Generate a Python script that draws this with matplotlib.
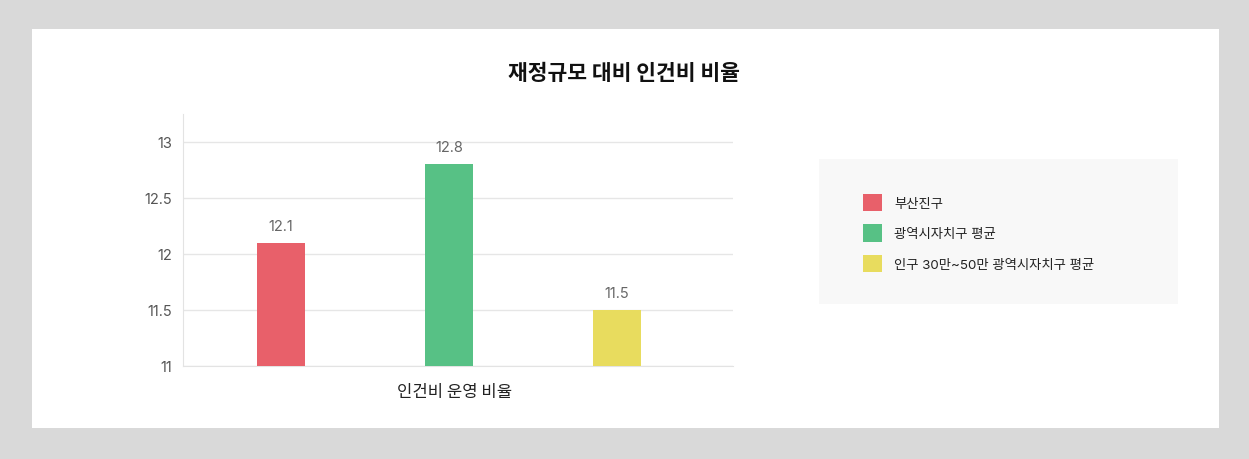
import matplotlib.pyplot as plt
from matplotlib.patches import Rectangle

plt.rcParams['font.family'] = ['Inter', 'Noto Sans CJK KR', 'DejaVu Sans']

# 데이터
series = ['부산진구', '광역시자치구 평균', '인구 30만~50만 광역시자치구 평균']
values = [12.1, 12.8, 11.5]
colors = ['#e8606a', '#57c185', '#e8dc5e']
category = '인건비 운영 비율'
yticks = [11, 11.5, 12, 12.5, 13]

W, H = 1249, 460
fig = plt.figure(figsize=(W / 100, H / 100), dpi=100)
fig.patch.set_facecolor('#d9d9d9')

# 흰 패널
fig.patches.append(Rectangle((32 / W, 1 - 429 / H), (1219 - 32) / W, (429 - 30) / H,
                             transform=fig.transFigure, facecolor='white',
                             edgecolor='none', zorder=-2))

fig.text(624 / W, 1 - 73 / H, '재정규모 대비 인건비 비율', ha='center', va='center',
         fontsize=15.5, fontweight='bold', color='#111111',
         family=['Noto Sans CJK KR', 'DejaVu Sans'])

ax = fig.add_axes([183 / W, 1 - 367 / H, (733 - 183) / W, (367 - 115) / H])
ax.set_zorder(2)
ax.set_facecolor('white')

bars = []
for i, (name, v, c) in enumerate(zip(series, values, colors)):
    b = ax.bar(i, v - 11, bottom=11, width=0.29, color=c, label=name, zorder=3)
    bars.append(b)
    ax.text(i, v + 0.09, str(v), ha='center', va='bottom', fontsize=10.5, color='#666666')

ax.set_xlim(-0.583, 2.69)
ax.set_ylim(11, 13.25)
ax.set_yticks(yticks)
ax.set_yticklabels([f'{t:g}' for t in yticks])
ax.set_xticks([])
ax.tick_params(axis='y', length=0, pad=8, labelsize=10.5, labelcolor='#555555')
ax.grid(axis='y', color='#e6e6e6', linewidth=1, zorder=0)
for s in ['top', 'right']:
    ax.spines[s].set_visible(False)
for s in ['left', 'bottom']:
    ax.spines[s].set_color('#e3e3e3')

fig.text(455 / W, 1 - 393 / H, category, ha='center', va='center',
         fontsize=12, color='#222222', family=['Noto Sans CJK KR', 'DejaVu Sans'])

# 범례 상자
fig.patches.append(Rectangle((819 / W, 1 - 305 / H), (1178 - 819) / W, (305 - 160) / H,
                             transform=fig.transFigure, facecolor='#f8f8f8',
                             edgecolor='none', zorder=-1))
leg = fig.legend(handles=[b[0] for b in bars], labels=series, loc='upper left',
                 bbox_to_anchor=(851 / W, 1 - 183 / H), frameon=False,
                 prop={'family': ['Inter', 'Noto Sans CJK KR'], 'size': 9.6},
                 handlelength=1.45, handleheight=1.6,
                 handletextpad=0.9, labelspacing=1.0)
for t in leg.get_texts():
    t.set_color('#222222')

fig.savefig('out.png', dpi=100, facecolor=fig.get_facecolor())
